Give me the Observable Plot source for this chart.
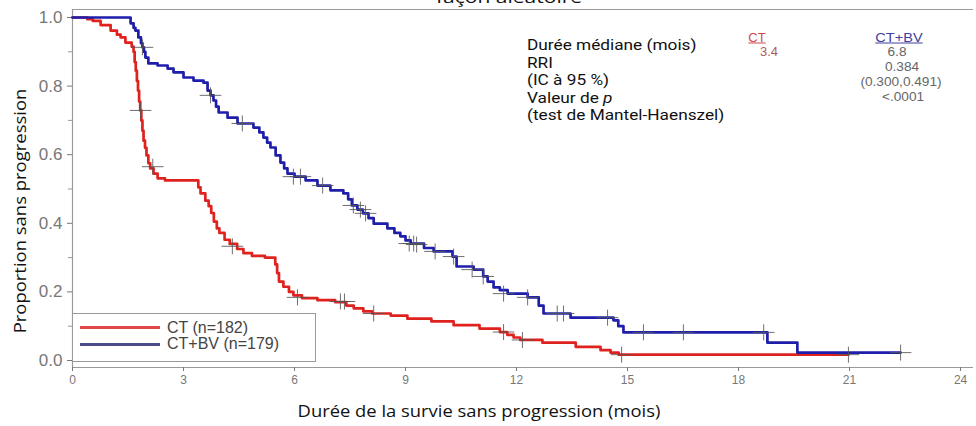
<!DOCTYPE html>
<html><head><meta charset="utf-8">
<script src="https://cdn.jsdelivr.net/npm/d3@7"></script>
<script src="https://cdn.jsdelivr.net/npm/@observablehq/plot@0.6"></script>
<style>
html,body{margin:0;padding:0;background:#fff;overflow:hidden}
#wrap{position:relative;width:976px;height:426px;overflow:hidden}
.ov{position:absolute;white-space:nowrap;line-height:1}
.cal{font-family:"Open Sans","Noto Sans",sans-serif;color:#111}
.rob{font-family:Roboto,"Open Sans",sans-serif;color:#111}
.ari{font-family:"Liberation Sans",Arial,sans-serif}
</style></head><body><div id="wrap"></div>
<script>
// ---- data ----
const xTicks = [0, 3, 6, 9, 12, 15, 18, 21, 24];
const yTicks = [0, 0.2, 0.4, 0.6, 0.8, 1.0];
const yMinorTicks = [0.1, 0.3, 0.5, 0.7, 0.9];

const ctTime = [0,0.4,0.55,0.76,1.03,1.2,1.3,1.43,1.6,1.65,1.68,1.71,1.74,1.77,1.8,1.83,1.86,1.89,1.92,1.96,2.0,2.05,2.1,2.19,2.3,2.5,3.4,3.46,3.59,3.68,3.75,3.82,3.9,3.97,4.11,4.25,4.45,4.62,4.85,5.2,5.48,5.53,5.58,5.7,5.85,5.97,6.2,6.62,7.1,7.4,7.6,7.86,8.1,8.6,9.05,9.7,10.3,11.0,11.55,11.75,11.92,12.1,12.7,13.6,14.27,14.54,14.76,20.97];
const ctSurv = [1.0,0.995,0.99,0.978,0.962,0.95,0.942,0.927,0.915,0.9,0.87,0.845,0.815,0.787,0.755,0.729,0.7,0.67,0.641,0.62,0.598,0.575,0.56,0.545,0.531,0.525,0.505,0.487,0.466,0.45,0.43,0.405,0.385,0.372,0.352,0.34,0.325,0.313,0.305,0.3,0.28,0.255,0.23,0.215,0.2,0.19,0.182,0.176,0.17,0.16,0.152,0.143,0.137,0.131,0.122,0.114,0.103,0.093,0.083,0.075,0.067,0.06,0.052,0.04,0.03,0.023,0.017,0.017];

const bvTime = [0,1.49,1.57,1.65,1.7,1.78,1.85,1.89,1.93,1.97,2.05,2.3,2.57,2.73,3.0,3.27,3.54,3.65,3.73,3.81,3.88,3.95,4.19,4.46,4.89,5.05,5.16,5.26,5.35,5.49,5.62,5.72,5.81,6.0,6.3,6.62,6.97,7.32,7.45,7.55,7.7,7.85,8.0,8.14,8.51,8.7,8.86,9.0,9.14,9.5,9.76,10.27,10.38,10.84,11.1,11.22,11.38,11.55,11.76,12.3,12.6,12.73,13.46,14.62,14.75,14.89,18.78,19.59,22.38];
const bvSurv = [1.0,1.0,0.983,0.97,0.962,0.942,0.925,0.913,0.9,0.883,0.866,0.86,0.851,0.84,0.825,0.816,0.81,0.787,0.773,0.758,0.74,0.723,0.708,0.691,0.679,0.665,0.65,0.635,0.621,0.598,0.577,0.56,0.545,0.536,0.525,0.51,0.496,0.487,0.47,0.452,0.44,0.429,0.415,0.399,0.385,0.372,0.362,0.35,0.341,0.328,0.318,0.303,0.274,0.265,0.245,0.23,0.213,0.205,0.195,0.184,0.16,0.137,0.125,0.117,0.1,0.082,0.052,0.023,0.023];

const ctCensTime = [1.84,2.17,4.32,6.08,7.24,7.35,8.14,11.65,12.16,14.84,20.97];
const ctCensSurv = [0.729,0.565,0.333,0.184,0.172,0.172,0.137,0.083,0.06,0.017,0.017];
const bvCensTime = [1.89,3.73,4.59,5.97,6.16,6.76,7.59,7.78,7.92,9.1,9.22,9.3,9.8,10.3,10.8,11.1,11.65,12.3,13.1,13.27,14.46,15.43,16.51,18.68,22.38];
const bvCensSurv = [0.913,0.773,0.691,0.536,0.536,0.51,0.452,0.44,0.429,0.341,0.341,0.338,0.318,0.303,0.265,0.245,0.195,0.184,0.137,0.137,0.125,0.082,0.082,0.082,0.023];

const seriesNames = ["CT", "CT+BV"];
const legendLabels = ["CT (n=182)", "CT+BV (n=179)"];
const statLabels = ["Durée médiane (mois)", "RRI", "(IC à 95 %)", "Valeur de ", "(test de Mantel-Haenszel)"];
const ctMedian = "3.4";
const bvStats = ["6.8", "0.384", "(0.300,0.491)", "<.0001"];
const titleText = "façon aléatoire";
const yLabel = "Proportion sans progression";
const xLabel = "Durée de la survie sans progression (mois)";

// ---- build ----
const RED = "#e0221f", BLUE = "#1e1eaa";
const ct = ctTime.map((t, i) => ({t, s: ctSurv[i]}));
const bv = bvTime.map((t, i) => ({t, s: bvSurv[i]}));
const cens = ctCensTime.map((t, i) => ({t, s: ctCensSurv[i]}))
  .concat(bvCensTime.map((t, i) => ({t, s: bvCensSurv[i]})));

const plusSym = {draw(ctx, size) {
  const r = Math.sqrt(size / Math.PI);
  ctx.moveTo(-r * 1.35, 0); ctx.lineTo(r * 1.35, 0);
  ctx.moveTo(0, -r); ctx.lineTo(0, r);
}};

const X0 = 0, X1 = 24.35, Y0 = -0.0204, Y1 = 1.0233;
const chart = Plot.plot({
  width: 976, height: 426,
  marginLeft: 72, marginRight: 3, marginTop: 9, marginBottom: 59,
  x: {domain: [X0, X1]},
  y: {domain: [Y0, Y1]},
  style: {fontFamily: "'Liberation Sans', Arial, sans-serif", background: "white"},
  marks: [
    Plot.ruleY([Y0], {stroke: "#9a9a9a", strokeWidth: 1.2}),
    Plot.ruleY([Y1], {stroke: "#9a9a9a", strokeWidth: 1}),
    Plot.ruleX([X0], {stroke: "#9a9a9a", strokeWidth: 1.2}),
    Plot.axisX(xTicks, {tickSize: 4, tickPadding: 4, fontSize: 12, color: "#777", label: null}),
    Plot.axisY(yTicks, {tickSize: 5, tickPadding: 5, fontSize: 17, color: "#777", tickFormat: d => d.toFixed(1), label: null}),
    Plot.axisY(yMinorTicks, {tickSize: 4, color: "#999", tickFormat: () => "", label: null}),
    Plot.line(ct, {x: "t", y: "s", curve: "step-after", stroke: RED, strokeWidth: 2.7}),
    Plot.line(bv, {x: "t", y: "s", curve: "step-after", stroke: BLUE, strokeWidth: 2.7}),
    Plot.dot(cens, {x: "t", y: "s", symbol: plusSym, r: 8, stroke: "#555", strokeOpacity: 0.85, strokeWidth: 1, fill: "none"})
  ]
});
const wrap = document.getElementById("wrap");
wrap.appendChild(chart);

function addText(txt, x, y, cls, css, anchor) {
  const d = document.createElement("div");
  d.className = "ov " + cls;
  d.textContent = txt;
  d.style.left = x + "px"; d.style.top = y + "px";
  d.dataset.anchor = anchor || "middle";
  Object.assign(d.style, css || {});
  wrap.appendChild(d);
  setScale(d, 1);
  return d;
}
function setScale(d, s, rot) {
  const start = d.dataset.anchor === "start";
  d.style.transformOrigin = start ? "0 50%" : "50% 50%";
  d.style.transform = `translate(${start ? "0" : "-50%"},-50%)${rot ? " rotate(" + rot + "deg)" : ""} scaleX(${s})`;
}
function fit(d, target, rot) {
  const w = d.offsetWidth;
  const s = target / w;
  setScale(d, s, rot);
  return s;
}
// title (cut at top, as in the reference)
fit(addText(titleText, 509, -4, "cal", {fontSize: "17px"}), 146);
// axis labels
fit(addText(yLabel, 20, 211, "cal", {fontSize: "16.5px"}), 245, -90);
fit(addText(xLabel, 479, 411, "cal", {fontSize: "16.5px"}), 363);
// stats block
const rowsY = [46, 63.5, 81, 98.5, 116];
const statDivs = statLabels.map((s, i) => {
  const d = addText(s, 527, rowsY[i], "rob", {fontSize: "14.5px"}, "start");
  if (i === 3) { const em = document.createElement("i"); em.textContent = "p"; d.appendChild(em); }
  return d;
});
const sc = fit(statDivs[0], 170);
statDivs.forEach(d => setScale(d, sc));
addText(seriesNames[0], 757, 37, "ari", {fontSize: "13px", color: "#d04848", textDecoration: "underline"});
addText(ctMedian, 769, 51, "ari", {fontSize: "13px", color: "#b05858"});
const hd = addText(seriesNames[1], 899, 37, "ari", {fontSize: "13px", color: "#4040a0", textDecoration: "underline"});
setScale(hd, 1.12);
const bvY = [51, 66, 81, 96];
bvStats.forEach((s, i) => setScale(addText(s, [897, 902, 901, 903][i], bvY[i], "ari", {fontSize: "13px", color: "#666"}), 1.05));
// legend
const lg = document.createElement("div");
Object.assign(lg.style, {position: "absolute", left: "72px", top: "313px", width: "244px", height: "49px",
  border: "1px solid #9a9a9a", boxSizing: "border-box", background: "white"});
wrap.appendChild(lg);
["#e04848", "#4a4a88"].forEach((c, i) => {
  const ln = document.createElement("div");
  Object.assign(ln.style, {position: "absolute", left: "80px", top: (326 + i * 16.5) + "px", width: "80px", height: "3px", background: c});
  wrap.appendChild(ln);
  addText(legendLabels[i], 167, 327.5 + i * 16.5, "ari", {fontSize: "16px", color: "#444"}, "start");
});
</script></body></html>
